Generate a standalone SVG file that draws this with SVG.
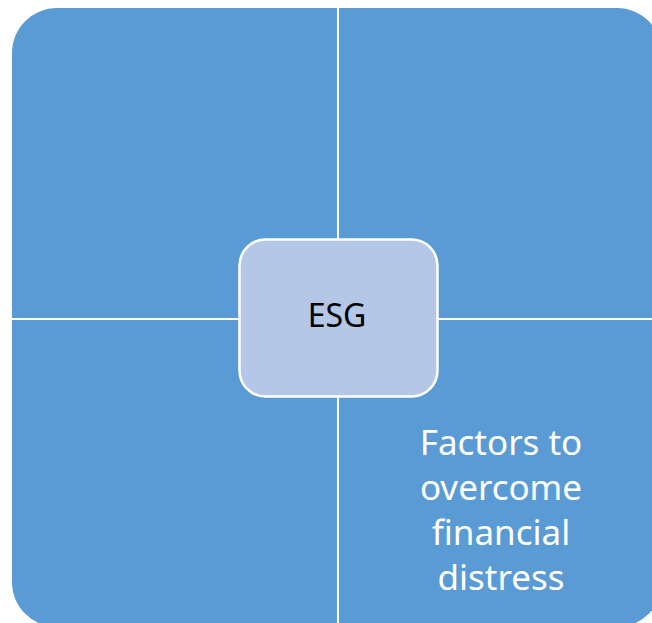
<svg xmlns="http://www.w3.org/2000/svg" width="652" height="623" viewBox="0 0 652 623">
<style>
.q{fill:#5B9BD5;}
.c{fill:#B4C7E7;stroke:#FFFFFF;stroke-width:2.5;}
.t{font-family:"Noto Sans","Open Sans",sans-serif;text-anchor:middle;}
</style>
<rect width="652" height="623" fill="#FFFFFF"/>
<g id="quadrant-tl"><path class="q" d="M12,318 L12,53 A45,45 0 0 1 57,8 L337,8 L337,318 Z"/></g>
<g id="quadrant-tr"><path class="q" d="M339,8 L617,8 A45,45 0 0 1 662,53 L662,318 L339,318 Z"/></g>
<g id="quadrant-bl"><path class="q" d="M12,320 L337,320 L337,627 L57,627 A45,45 0 0 1 12,582 Z"/></g>
<g id="quadrant-br"><path class="q" d="M339,320 L662,320 L662,582 A45,45 0 0 1 617,627 L339,627 Z"/>
<text class="t" x="501" y="455" font-size="35" fill="#FFFFFF">Factors to</text>
<text class="t" x="501" y="500" font-size="35" fill="#FFFFFF">overcome</text>
<text class="t" x="501" y="545" font-size="35" fill="#FFFFFF">financial</text>
<text class="t" x="501" y="590" font-size="35" fill="#FFFFFF">distress</text>
</g>
<g id="connectors"></g>
<g id="center-esg"><rect class="c" x="239.5" y="239.5" width="198" height="157" rx="26" ry="26"/>
<text class="t" x="337" y="327" font-size="32" fill="#000000">ESG</text></g>
</svg>
